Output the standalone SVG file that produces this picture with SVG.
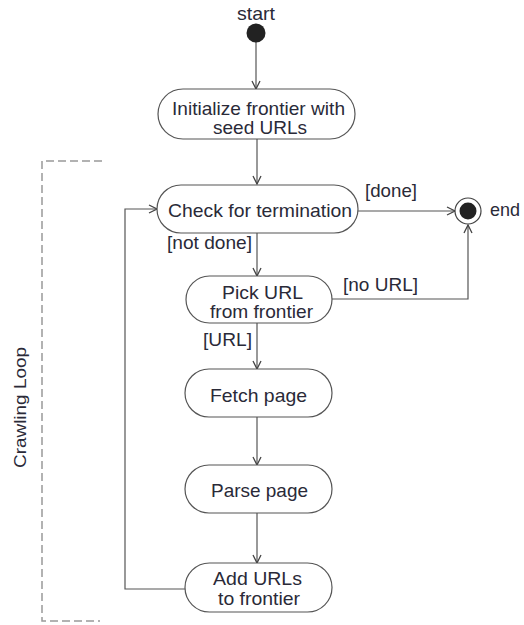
<svg xmlns="http://www.w3.org/2000/svg" width="524" height="625" viewBox="0 0 524 625">
<defs>
<marker id="arr" viewBox="0 0 10 10" refX="9" refY="5" markerWidth="10" markerHeight="10" markerUnits="userSpaceOnUse" orient="auto">
<path d="M1,1 L9,5 L1,9" fill="none" stroke="#444" stroke-width="1.3"/>
</marker>
<style>
.node{fill:#fff;stroke:#555;stroke-width:1.2}
.t{font-family:"Liberation Sans",Arial,sans-serif;font-size:19px;fill:#2a2a38}
.c{fill:none;stroke:#555;stroke-width:1.2}
</style>
</defs>
<rect width="524" height="625" fill="#fff"/>
<g id="loop-frame">
<path d="M102,161 H42 V621 H100" fill="none" stroke="#999" stroke-width="1.5" stroke-dasharray="8,4"/>
<text class="t" style="font-size:17px" transform="translate(26,468) rotate(-90)" textLength="121" lengthAdjust="spacingAndGlyphs">Crawling Loop</text>
</g>
<g id="connectors">
<line class="c" x1="256" y1="42" x2="256" y2="89" marker-end="url(#arr)"/>
<line class="c" x1="257" y1="139" x2="257" y2="184" marker-end="url(#arr)"/>
<line class="c" x1="358" y1="211" x2="455" y2="211" marker-end="url(#arr)"/>
<line class="c" x1="257" y1="233" x2="257" y2="276" marker-end="url(#arr)"/>
<polyline class="c" points="332,299 468,299 468,225" marker-end="url(#arr)"/>
<line class="c" x1="257" y1="323" x2="257" y2="369" marker-end="url(#arr)"/>
<line class="c" x1="257" y1="417" x2="257" y2="465" marker-end="url(#arr)"/>
<line class="c" x1="257" y1="513" x2="257" y2="563" marker-end="url(#arr)"/>
<polyline class="c" points="185,589 125,589 125,209 157,209" marker-end="url(#arr)"/>
<text class="t" x="365" y="197" textLength="52" lengthAdjust="spacingAndGlyphs">[done]</text>
<text class="t" x="167" y="249" textLength="85" lengthAdjust="spacingAndGlyphs">[not done]</text>
<text class="t" x="343" y="291" textLength="75" lengthAdjust="spacingAndGlyphs">[no URL]</text>
<text class="t" x="203" y="346" textLength="49" lengthAdjust="spacingAndGlyphs">[URL]</text>
</g>
<g id="start">
<text class="t" x="237" y="20" textLength="38" lengthAdjust="spacingAndGlyphs">start</text>
<circle cx="256" cy="33" r="9.5" fill="#222"/>
</g>
<g id="init">
<rect class="node" x="158" y="89" width="197" height="50" rx="25"/>
<text class="t" x="172" y="115" textLength="173" lengthAdjust="spacingAndGlyphs">Initialize frontier with</text>
<text class="t" x="213" y="134" textLength="94" lengthAdjust="spacingAndGlyphs">seed URLs</text>
</g>
<g id="check">
<rect class="node" x="157" y="185" width="201" height="48" rx="24"/>
<text class="t" x="168" y="217" textLength="184" lengthAdjust="spacingAndGlyphs">Check for termination</text>
</g>
<g id="end">
<circle cx="468" cy="211" r="13" fill="#fff" stroke="#444" stroke-width="1.2"/>
<circle cx="468" cy="211" r="8.5" fill="#222"/>
<text class="t" x="490" y="216" textLength="30" lengthAdjust="spacingAndGlyphs">end</text>
</g>
<g id="pick">
<rect class="node" x="186" y="276" width="146" height="47" rx="23.5"/>
<text class="t" x="222" y="299" textLength="81" lengthAdjust="spacingAndGlyphs">Pick URL</text>
<text class="t" x="210" y="318" textLength="103" lengthAdjust="spacingAndGlyphs">from frontier</text>
</g>
<g id="fetch">
<rect class="node" x="185" y="369" width="147" height="48" rx="24"/>
<text class="t" x="210" y="402" textLength="97" lengthAdjust="spacingAndGlyphs">Fetch page</text>
</g>
<g id="parse">
<rect class="node" x="185" y="465" width="147" height="48" rx="24"/>
<text class="t" x="211" y="497" textLength="97" lengthAdjust="spacingAndGlyphs">Parse page</text>
</g>
<g id="add">
<rect class="node" x="185" y="563" width="147" height="49" rx="24.5"/>
<text class="t" x="213" y="585" textLength="89" lengthAdjust="spacingAndGlyphs">Add URLs</text>
<text class="t" x="218" y="605" textLength="82" lengthAdjust="spacingAndGlyphs">to frontier</text>
</g>
</svg>
